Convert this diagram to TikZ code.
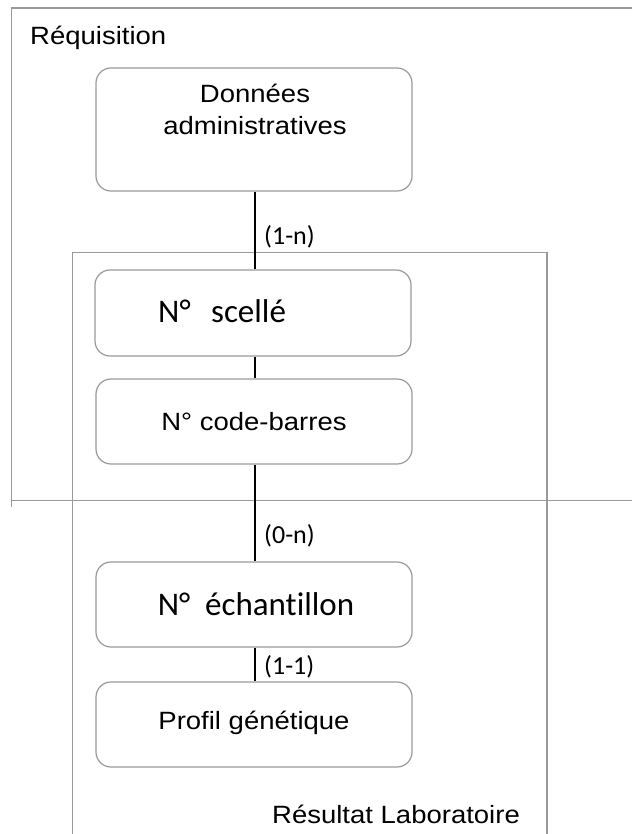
\documentclass[tikz,border=0pt]{standalone}
\usepackage{fontspec}
\newfontfamily\arialf[FakeStretch=1.1]{Liberation Sans}
\newfontfamily\calf[Ligatures={NoCommon}]{Carlito}
\definecolor{framegray}{HTML}{999999}
\tikzset{
  frame/.style={draw=framegray, line width=1.3pt},
  entity/.style={draw=framegray, line width=1.2pt, rounded corners=15pt,
    minimum width=316pt, inner sep=0pt},
  link/.style={draw=black, line width=1.1pt},
  atext/.style={font=\arialf\fontsize{25}{32}\selectfont, inner sep=0pt, align=center},
  ctext/.style={font=\calf\fontsize{33}{38}\selectfont, inner sep=0pt},
  card/.style={font=\calf\fontsize{26}{30}\selectfont, inner sep=0pt, anchor=west},
}
\begin{document}
\begin{tikzpicture}[x=1pt, y=-1pt]
\useasboundingbox (0,0) rectangle (632,834);

% Réquisition frame (runs off the right edge)
\draw[frame] (632,8) -- (11.5,8) -- (11.5,507);
\draw[frame] (11.5,500.5) -- (632,500.5);
\node[atext, anchor=base west] (req) at (30,45) {Réquisition};

% Résultat Laboratoire frame (runs off the bottom edge)
\draw[frame] (72.6,834) -- (72.6,252.5) -- (547,252.5) -- (547,834);
\node[atext, anchor=base west] (res) at (272,823) {Résultat Laboratoire};

% entities
\node[entity, minimum height=123pt] (don) at (254,129.5) {};
\node[atext, anchor=base] (donT) at (255,102.7) {Données};
\node[atext, anchor=base] (donT2) at (255,135) {administratives};

\node[entity, minimum height=86pt] (sce) at (253,313) {};
\node[ctext, anchor=base west] (sceT) at (158,322.7) {N°\ \ \,scellé};

\node[entity, minimum height=85pt] (cod) at (254,421.5) {};
\node[atext, anchor=base] (codT) at (254,430) {N° code-barres};

\node[entity, minimum height=85pt] (ech) at (254,604.5) {};
\node[ctext, anchor=base] (echT) at (256,615) {N°\ \ échantillon};

\node[entity, minimum height=85pt] (pro) at (254,724.5) {};
\node[atext, anchor=base] (proT) at (254,729) {Profil génétique};

% relations
\draw[link] (don.south -| 255,0) -- (sce.north -| 255,0);
\draw[link] (sce.south -| 255,0) -- (cod.north -| 255,0);
\draw[link] (cod.south -| 255,0) -- (ech.north -| 255,0);
\draw[link] (ech.south -| 255,0) -- (pro.north -| 255,0);

% cardinalities
\node[card] (c1) at (264,237) {(1-n)};
\node[card] (c2) at (264,536) {(0-n)};
\node[card] (c3) at (264,667) {(1-1)};
\end{tikzpicture}
\end{document}
